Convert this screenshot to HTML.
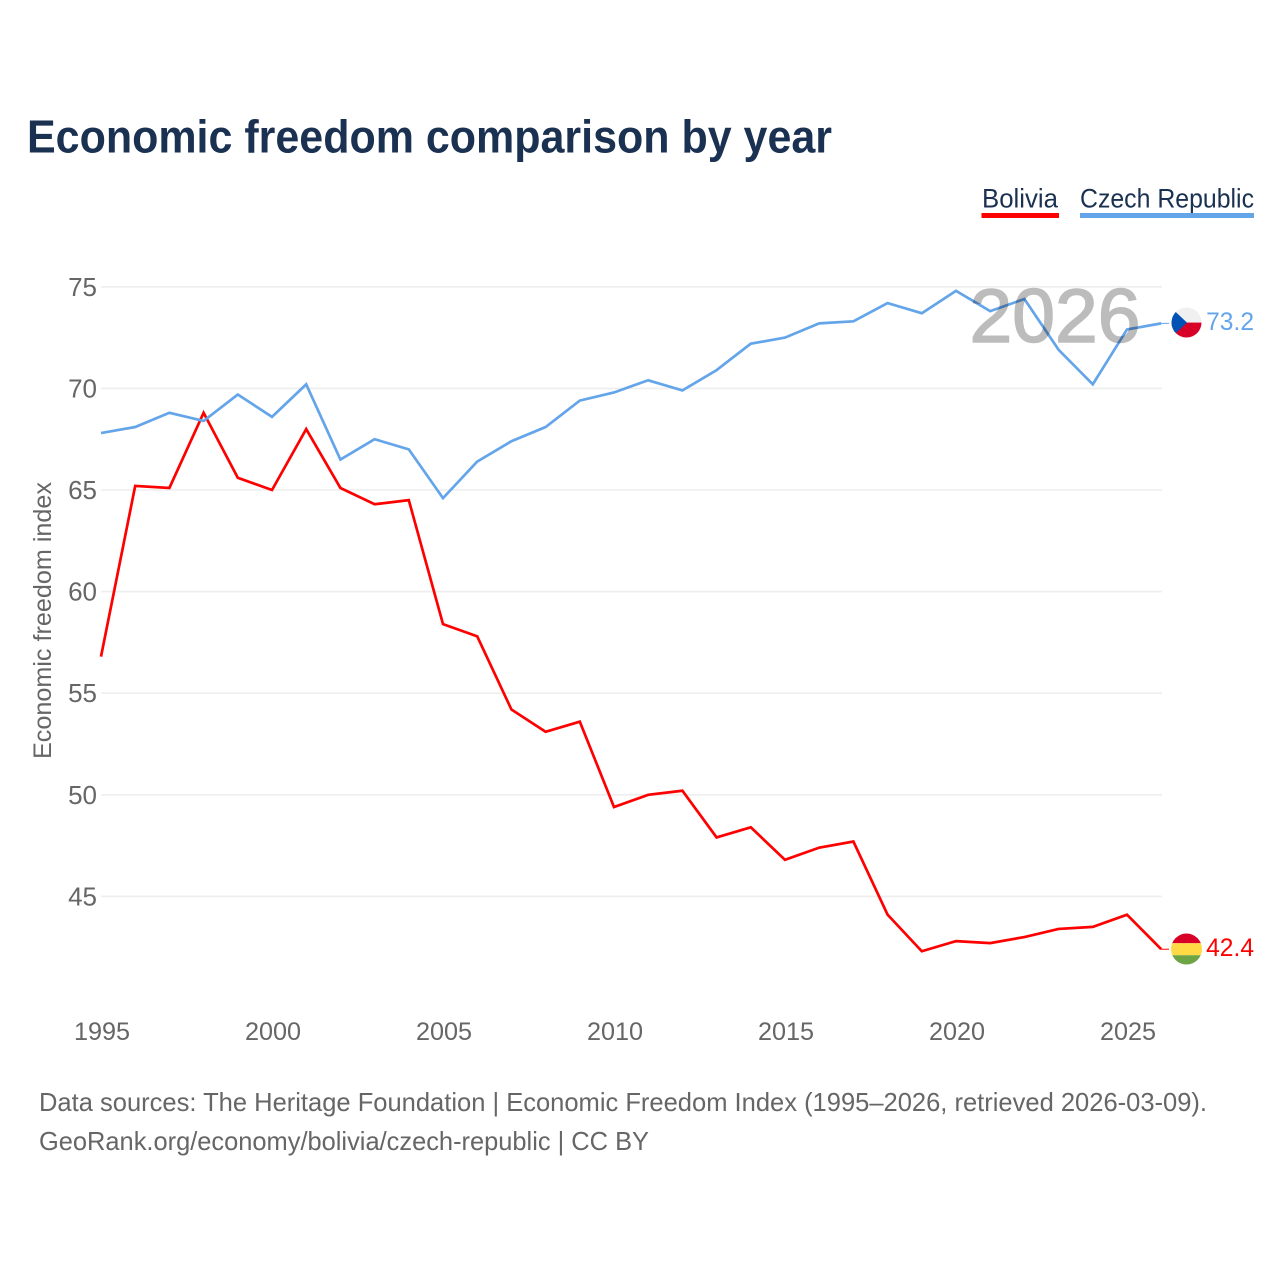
<!DOCTYPE html>
<html lang="en">
<head>
<meta charset="utf-8">
<title>Economic freedom comparison by year</title>
<style>
  html, body { margin: 0; padding: 0; background: #fff; }
  svg { display: block; }
  text { font-family: "Liberation Sans", sans-serif; }
</style>
</head>
<body>
<svg id="chart" xmlns="http://www.w3.org/2000/svg" width="1280" height="1280" viewBox="0 0 1280 1280">
  <rect x="0" y="0" width="1280" height="1280" fill="#ffffff"/>
  <text x="27" y="152.500" font-size="46" font-weight="700" fill="#1a3152" textLength="805" lengthAdjust="spacingAndGlyphs">Economic freedom comparison by year</text>

  <g>
    <text x="982" y="207.500" font-size="27" fill="#1a3152" textLength="76" lengthAdjust="spacingAndGlyphs">Bolivia</text>
    <rect x="981.500" y="213" width="77.500" height="5" fill="#ff0000"/>
  </g>
  <g>
    <text x="1080" y="207.500" font-size="27" fill="#1a3152" textLength="174" lengthAdjust="spacingAndGlyphs">Czech Republic</text>
    <rect x="1080" y="213" width="174" height="5" fill="#64a5ea"/>
  </g>

  <g id="grid"></g>
  <g id="yticks"></g>
  <g id="xticks"></g>
  <text transform="translate(51 759) rotate(-90)" font-size="25" fill="#666666" textLength="277" lengthAdjust="spacingAndGlyphs">Economic freedom index</text>

  <g id="series"></g>

  <text x="969.500" y="342" font-size="76" fill="#000000" stroke="#000000" stroke-width="1.600" opacity="0.26" textLength="171" lengthAdjust="spacingAndGlyphs">2026</text>

  <defs>
    <clipPath id="flag-clip-cz"><circle id="cz-clip-circle" cx="1186.500" cy="323" r="15"/></clipPath>
    <clipPath id="flag-clip-bo"><circle id="bo-clip-circle" cx="1186.500" cy="949" r="15.500"/></clipPath>
  </defs>
  <g id="flags"></g>

  <text x="39" y="1111" font-size="26" fill="#666666" textLength="1168" lengthAdjust="spacingAndGlyphs">Data sources: The Heritage Foundation | Economic Freedom Index (1995–2026, retrieved 2026-03-09).</text>
  <text x="39" y="1150" font-size="26" fill="#666666" textLength="610" lengthAdjust="spacingAndGlyphs">GeoRank.org/economy/bolivia/czech-republic | CC BY</text>
</svg>

<script>
const years = [1995,1996,1997,1998,1999,2000,2001,2002,2003,2004,2005,2006,2007,2008,2009,2010,2011,2012,2013,2014,2015,2016,2017,2018,2019,2020,2021,2022,2023,2024,2025,2026];
const bolivia = [56.8,65.2,65.1,68.8,65.6,65.0,68.0,65.1,64.3,64.5,58.4,57.8,54.2,53.1,53.6,49.4,50.0,50.2,47.9,48.4,46.8,47.4,47.7,44.1,42.3,42.8,42.7,43.0,43.4,43.5,44.1,42.4];
const czechRepublic = [67.8,68.1,68.8,68.4,69.7,68.6,70.2,66.5,67.5,67.0,64.6,66.4,67.4,68.1,69.4,69.8,70.4,69.9,70.9,72.2,72.5,73.2,73.3,74.2,73.7,74.8,73.8,74.4,71.9,70.2,72.9,73.2];
const yTickValues = [45,50,55,60,65,70,75];
const xTickValues = [1995,2000,2005,2010,2015,2020,2025];

const NS = 'http://www.w3.org/2000/svg';
function xScale(year) { return 101 + (year - 1995) * 34.2; }
function yScale(value) { return 286.8 + (75 - value) * 20.32; }
function make(tag, attrs, parent, txt) {
  const el = document.createElementNS(NS, tag);
  for (const k in attrs) el.setAttribute(k, attrs[k]);
  if (txt !== undefined) el.textContent = txt;
  parent.appendChild(el);
  return el;
}

const gridG = document.getElementById('grid');
const yG = document.getElementById('yticks');
const xG = document.getElementById('xticks');
const seriesG = document.getElementById('series');
const flagsG = document.getElementById('flags');

yTickValues.forEach(function (v) {
  const line = make('line', { x1: 101, x2: 1162, y1: yScale(v), y2: yScale(v), stroke: '#eeeeee', 'stroke-width': 1.6 }, gridG);
  
  
  const label = make('text', { x: 97, y: yScale(v) + 9, 'text-anchor': 'end', 'font-size': 26, fill: '#666666' }, yG, String(v));
  
  
});

xTickValues.forEach(function (yr) {
  const label = make('text', { x: xScale(yr) + 1, y: 1040, 'text-anchor': 'middle', 'font-size': 25.2, fill: '#666666' }, xG, String(yr));
  
  
});

function linePoints(values) {
  return values.map(function (v, i) { return xScale(years[i]).toFixed(2) + ',' + yScale(v).toFixed(2); }).join(' ');
}

const redLine = make('polyline', { points: linePoints(bolivia), fill: 'none', stroke: '#ff0000', 'stroke-width': 2.7, 'stroke-linejoin': 'miter' }, seriesG);



const blueLine = make('polyline', { points: linePoints(czechRepublic), fill: 'none', stroke: '#64a5ea', 'stroke-width': 2.7, 'stroke-linejoin': 'miter' }, seriesG);



const lastYear = years[years.length - 1];
const boLast = bolivia[bolivia.length - 1];
const czLast = czechRepublic[czechRepublic.length - 1];
const boY = yScale(boLast);
const czY = yScale(czLast);

const redStub = make('line', { x1: xScale(lastYear), x2: 1169, y1: boY, y2: boY, stroke: '#ff0000', 'stroke-width': 1 }, seriesG);



const blueStub = make('line', { x1: xScale(lastYear), x2: 1169, y1: czY, y2: czY, stroke: '#64a5ea', 'stroke-width': 1 }, seriesG);



/* Czech flag */
document.getElementById('cz-clip-circle').setAttribute('cy', czY - 0.9);
const czFlag = make('g', { 'clip-path': 'url(#flag-clip-cz)' }, flagsG);


make('rect', { x: 1171, y: czY - 17, width: 31, height: 16.2, fill: '#f0f0f0' }, czFlag);
make('rect', { x: 1171, y: czY - 0.8, width: 31, height: 16, fill: '#d80027' }, czFlag);
make('polygon', { points: '1171,' + (czY - 15.8) + ' 1187,' + (czY - 0.8) + ' 1171,' + (czY + 14.2), fill: '#0052b4' }, czFlag);

/* Bolivian flag */
document.getElementById('bo-clip-circle').setAttribute('cy', boY - 0.2);
const boFlag = make('g', { 'clip-path': 'url(#flag-clip-bo)' }, flagsG);


make('rect', { x: 1171, y: boY - 17, width: 32, height: 11, fill: '#d80027' }, boFlag);
make('rect', { x: 1171, y: boY - 6, width: 32, height: 12, fill: '#ffda44' }, boFlag);
make('rect', { x: 1171, y: boY + 6, width: 32, height: 11, fill: '#6da544' }, boFlag);

const czLabel = make('text', { x: 1254, y: czY + 6.6, 'text-anchor': 'end', 'font-size': 24.6, fill: '#64a5ea' }, flagsG, czLast.toFixed(1));



const boLabel = make('text', { x: 1254, y: boY + 6.8, 'text-anchor': 'end', 'font-size': 24.6, fill: '#ff0000' }, flagsG, boLast.toFixed(1));


</script>
</body>
</html>
